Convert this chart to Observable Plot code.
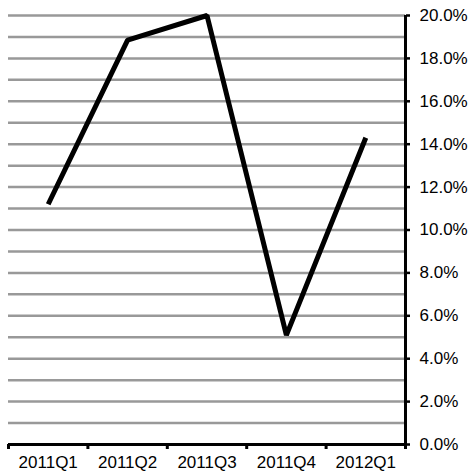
<!DOCTYPE html>
<html><head><meta charset="utf-8">
<script src="https://cdn.jsdelivr.net/npm/d3@7"></script>
<script src="https://cdn.jsdelivr.net/npm/@observablehq/plot@0.6"></script>
<style>body{margin:0;background:#fff}</style>
</head><body><div id="chart"></div>
<script>
const quarters = ["2011Q1", "2011Q2", "2011Q3", "2011Q4", "2012Q1"];
const growth = [0.112, 0.1885, 0.200, 0.051, 0.143];
const yTicks = [0, 0.02, 0.04, 0.06, 0.08, 0.10, 0.12, 0.14, 0.16, 0.18, 0.20];
const gridLevels = [0.01, 0.02, 0.03, 0.04, 0.05, 0.06, 0.07, 0.08, 0.09, 0.10,
                    0.11, 0.12, 0.13, 0.14, 0.15, 0.16, 0.17, 0.18, 0.19, 0.20];

const data = quarters.map((q, i) => ({i, q, v: growth[i]}));
const boundaries = d3.range(quarters.length + 1).map(i => i - 0.5);
const centers = d3.range(quarters.length);

const chart = Plot.plot({
  width: 471, height: 473,
  marginLeft: 8, marginRight: 66, marginTop: 15, marginBottom: 29,
  x: {type: "linear", domain: [-0.5, quarters.length - 0.5], axis: null, label: null},
  y: {domain: [0, 0.2], axis: null, label: null},
  style: {fontFamily: "'Liberation Sans', Arial, sans-serif", fontSize: "17px", color: "#000", background: "#fff"},
  marks: [
    Plot.ruleY(gridLevels, {stroke: "#999", strokeWidth: 2.5}),
    Plot.ruleY([0], {stroke: "#000", strokeWidth: 3}),
    Plot.ruleX([quarters.length - 0.5], {y1: 0, y2: 0.2, stroke: "#000", strokeWidth: 3}),
    Plot.axisX({ticks: boundaries, tickFormat: () => "", tickSize: 5, stroke: "#000", strokeWidth: 3, label: null}),
    Plot.axisX({ticks: centers, tickFormat: i => quarters[i], tickSize: 0, tickPadding: 11, fill: "#000", label: null}),
    Plot.axisY({anchor: "right", ticks: yTicks, tickFormat: d => (d * 100).toFixed(1) + "%", tickSize: 4, tickPadding: 10, stroke: "#000", strokeWidth: 2.5, fill: "#000", label: null}),
    Plot.line(data, {x: "i", y: "v", stroke: "#000", strokeWidth: 5, strokeLinejoin: "miter", strokeLinecap: "butt"})
  ]
});
document.getElementById("chart").appendChild(chart);
</script>
</body></html>
